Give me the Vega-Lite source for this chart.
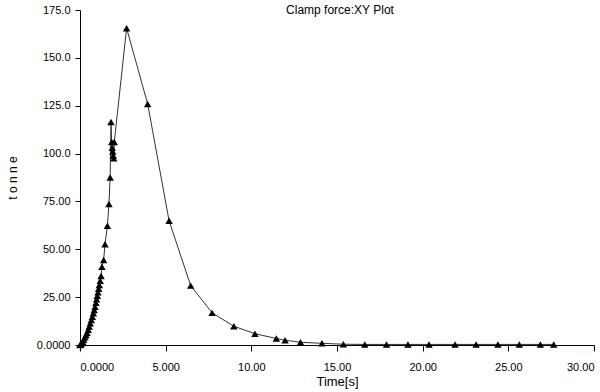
{
  "$schema": "https://vega.github.io/schema/vega-lite/v6.json",
  "autosize": "none",
  "width": 514,
  "height": 335,
  "padding": {"left": 80, "top": 10, "right": 6, "bottom": 47},
  "background": "white",
  "title": {"text": "Clamp force:XY Plot", "anchor": "middle", "offset": -13, "fontSize": 12, "fontWeight": "normal", "font": "Liberation Sans", "color": "black", "dx": 3},
  "config": {
    "view": {"stroke": null},
    "axis": {"grid": false, "domainColor": "black", "tickColor": "black", "labelColor": "black", "titleColor": "black", "labelFont": "Liberation Sans", "titleFont": "Liberation Sans", "labelFontSize": 11, "titleFontWeight": "normal"}
  },
  "data": {"values": [
    {"t": 0, "v": 0},
    {"t": 0.03, "v": 0.2},
    {"t": 0.06, "v": 0.5},
    {"t": 0.11, "v": 1.0},
    {"t": 0.16, "v": 1.7},
    {"t": 0.22, "v": 2.8},
    {"t": 0.29, "v": 4.0},
    {"t": 0.35, "v": 5.2},
    {"t": 0.41, "v": 6.4},
    {"t": 0.48, "v": 8.0},
    {"t": 0.54, "v": 9.6},
    {"t": 0.60, "v": 11.3},
    {"t": 0.66, "v": 13.1},
    {"t": 0.72, "v": 14.8},
    {"t": 0.78, "v": 16.6},
    {"t": 0.83, "v": 18.3},
    {"t": 0.88, "v": 20.0},
    {"t": 0.93, "v": 22.0},
    {"t": 0.97, "v": 23.9},
    {"t": 1.01, "v": 25.7},
    {"t": 1.05, "v": 27.5},
    {"t": 1.09, "v": 29.4},
    {"t": 1.13, "v": 31.3},
    {"t": 1.18, "v": 33.6},
    {"t": 1.23, "v": 36.0},
    {"t": 1.28, "v": 40.9},
    {"t": 1.38, "v": 44.4},
    {"t": 1.46, "v": 52.6},
    {"t": 1.60, "v": 62.3},
    {"t": 1.69, "v": 73.7},
    {"t": 1.76, "v": 87.5},
    {"t": 1.81, "v": 116.5},
    {"t": 1.85, "v": 106.0},
    {"t": 1.88, "v": 103.0},
    {"t": 1.91, "v": 101.0},
    {"t": 1.94, "v": 99.0},
    {"t": 1.97, "v": 97.5},
    {"t": 2.00, "v": 106.0},
    {"t": 2.72, "v": 165.5},
    {"t": 3.95, "v": 125.9},
    {"t": 5.20, "v": 64.9},
    {"t": 6.46, "v": 31.0},
    {"t": 7.71, "v": 16.8},
    {"t": 8.98, "v": 9.8},
    {"t": 10.21, "v": 5.9},
    {"t": 11.46, "v": 3.4},
    {"t": 11.97, "v": 2.5},
    {"t": 12.87, "v": 1.4},
    {"t": 14.12, "v": 0.9},
    {"t": 15.37, "v": 0.4},
    {"t": 16.62, "v": 0.3},
    {"t": 17.89, "v": 0.3},
    {"t": 19.14, "v": 0.3},
    {"t": 20.37, "v": 0.3},
    {"t": 21.89, "v": 0.3},
    {"t": 23.12, "v": 0.3},
    {"t": 24.39, "v": 0.3},
    {"t": 25.64, "v": 0.3},
    {"t": 26.87, "v": 0.3},
    {"t": 27.65, "v": 0.3}
  ]},
  "encoding": {
    "x": {"field": "t", "type": "quantitative", "scale": {"domain": [0, 30], "nice": false, "zero": false},
      "axis": {"title": "Time[s]", "titleFontSize": 13, "titlePadding": 3, "values": [0, 5, 10, 15, 20, 25, 30], "tickSize": 6, "labelPadding": 10,
        "labelExpr": "datum.value == 0 ? '0.0000' : (datum.value < 10 ? format(datum.value, '.3f') : format(datum.value, '.2f'))"}},
    "y": {"field": "v", "type": "quantitative", "scale": {"domain": [0, 175], "nice": false},
      "axis": {"title": "t o n n e", "titleFontSize": 12, "titlePadding": 17, "values": [0, 25, 50, 75, 100, 125, 150, 175], "tickSize": 5, "labelPadding": 5,
        "labelExpr": "datum.value == 0 ? '0.0000' : (datum.value < 100 ? format(datum.value, '.2f') : format(datum.value, '.1f'))"}}
  },
  "layer": [
    {"mark": {"type": "line", "color": "#333333", "strokeWidth": 1}},
    {"mark": {"type": "point", "shape": "triangle-up", "filled": true, "color": "black", "opacity": 1, "size": 55}}
  ]
}
